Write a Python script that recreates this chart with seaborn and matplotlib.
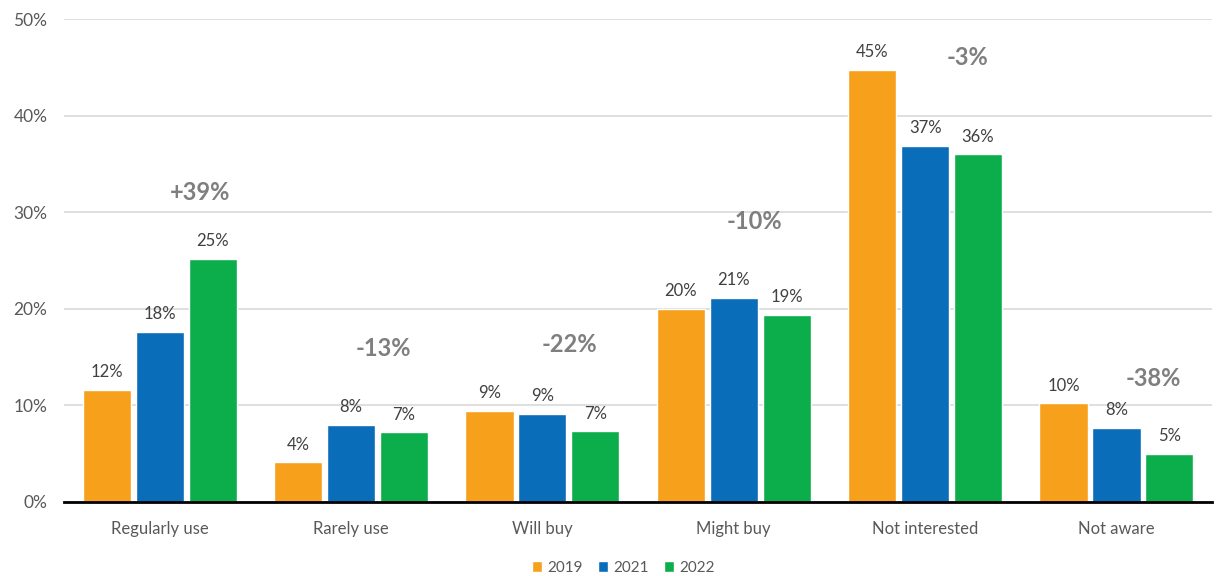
import matplotlib
matplotlib.use("Agg")
import matplotlib.pyplot as plt
import pandas as pd
import seaborn as sns

# data
categories = ['Regularly use', 'Rarely use', 'Will buy', 'Might buy', 'Not interested', 'Not aware']
years = ['2019', '2021', '2022']
v2019 = [11.6, 4.1, 9.4, 20.0, 44.7, 10.2]
v2021 = [17.6, 8.0, 9.1, 21.1, 36.9, 7.7]
v2022 = [25.2, 7.2, 7.3, 19.4, 36.0, 5.0]
changes = ['+39%', '-13%', '-22%', '-10%', '-3%', '-38%']

# where the change labels sit (x offset from category centre, y in %)
change_dx = [0.21, 0.17, 0.14, 0.11, 0.22, 0.19]
change_y = [32.0, 15.9, 16.3, 29.0, 46.0, 12.8]

colors = ['#F7A01C', '#0A6DB9', '#0BAE4B']

df = pd.DataFrame({
    'category': categories * 3,
    'year': [y for y in years for _ in categories],
    'value': v2019 + v2021 + v2022,
})

sns.set_style('white')
plt.rcParams['font.family'] = ['Lato', 'DejaVu Sans']

fig = plt.figure(figsize=(12.17, 5.76), dpi=100)
ax = fig.add_axes([0.0526, 0.1285, 0.9434, 0.8385])

sns.barplot(data=df, x='category', y='value', hue='year', order=categories,
            hue_order=years, palette=colors, width=0.83, gap=0.09,
            saturation=1, ax=ax, legend=True)

for cont in ax.containers:
    ax.bar_label(cont, labels=[f"{round(b.get_height())}%" for b in cont],
                 padding=7, fontsize=12, color='#404040')

for i, txt in enumerate(changes):
    ax.text(i + change_dx[i], change_y[i], txt, ha='center', va='center',
            fontsize=17, fontweight='bold', color='#7F7F7F')

ax.set_ylim(0, 50)
ax.set_xlim(-0.5, len(categories) - 0.5)
ax.set_yticks([0, 10, 20, 30, 40, 50])
ax.set_yticklabels([f"{t}%" for t in [0, 10, 20, 30, 40, 50]])
ax.yaxis.grid(True, color='#D9D9D9', linewidth=1.2)
ax.set_axisbelow(True)
ax.set_xlabel('')
ax.set_ylabel('')
ax.tick_params(axis='x', length=0, pad=14, labelsize=12, labelcolor='#595959')
ax.tick_params(axis='y', length=0, pad=12, labelsize=12.5, labelcolor='#595959')
for s in ['top', 'right', 'left']:
    ax.spines[s].set_visible(False)
ax.spines['bottom'].set_color('black')
ax.spines['bottom'].set_linewidth(2)

handles, labels = ax.get_legend_handles_labels()
ax.get_legend().remove()
fig.legend(handles, labels, loc='lower center', bbox_to_anchor=(0.512, -0.022),
           ncol=3, frameon=False, fontsize=11, handlelength=0.7,
           handleheight=0.7, handletextpad=0.3, columnspacing=1.0,
           labelcolor='#595959')

fig.savefig('out.png', dpi=100)
